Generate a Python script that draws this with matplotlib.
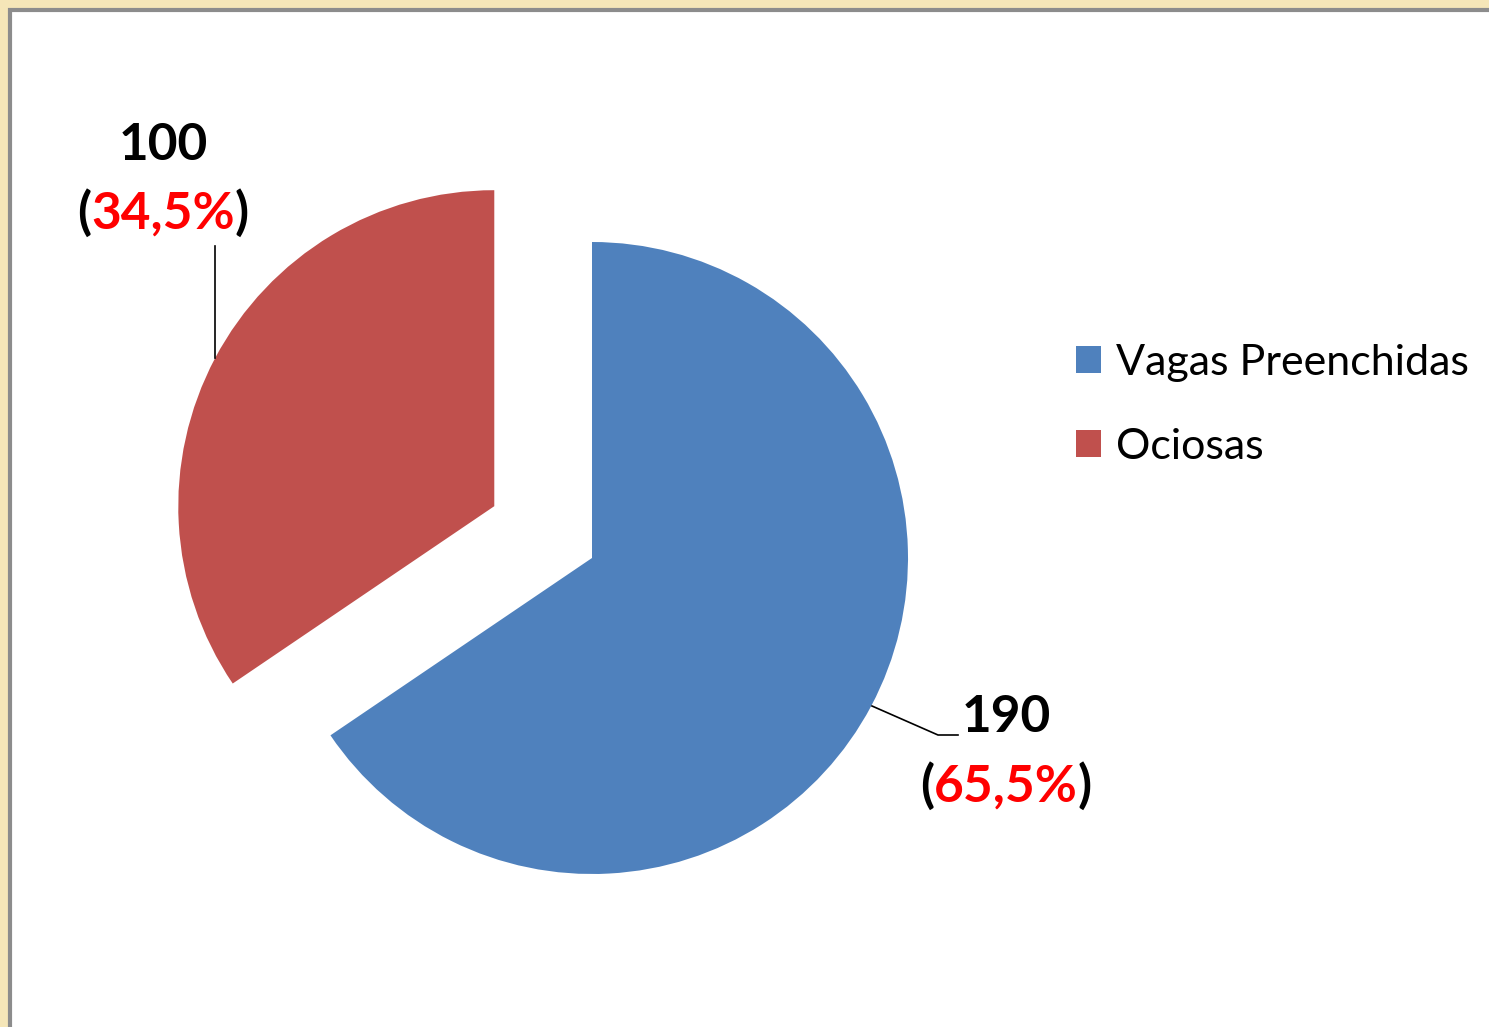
import matplotlib
matplotlib.use("Agg")
import matplotlib.pyplot as plt
from matplotlib.patches import Rectangle, Patch
from matplotlib.offsetbox import TextArea, HPacker, AnnotationBbox

# ---- data ----
categories = ["Vagas Preenchidas", "Ociosas"]
values = [190, 100]
pct_labels = ["65,5%", "34,5%"]
colors = ["#4F81BD", "#C0504D"]
explode_frac = [0.0, 0.35]

W, H = 1489, 1027
fig = plt.figure(figsize=(W / 100, H / 100), dpi=100)
fig.patch.set_facecolor("#F5E6B8")

# white chart panel with grey border (top/left visible)
panel = Rectangle((10 / W, -0.1), 1.2, 1.1 - 10 / H, transform=fig.transFigure,
                  facecolor="white", edgecolor="#8C8C8C", linewidth=3, zorder=-10)
fig.patches.append(panel)

ax = fig.add_axes([0, 0, 1, 1])
ax.set_facecolor("none")
ax.set_zorder(5)

cx, cy, r = 592, H - 558, 316
wedges, _ = ax.pie(values, colors=colors, startangle=90, counterclock=False,
                   explode=[e * r for e in explode_frac], center=(cx, cy), radius=r,
                   wedgeprops=dict(linewidth=0))
ax.set_xlim(0, W)
ax.set_ylim(0, H)
ax.set_aspect("equal")
ax.axis("off")

font = "Lato"
fs = 37

def label(x, y, count, pct):
    ax.text(x, H - y, str(count), ha="center", va="center", fontsize=fs,
            fontweight="bold", family=font, color="black")
    tp_k = dict(fontsize=fs, fontweight="bold", family=font, color="black")
    tp_r = dict(fontsize=fs, fontweight="bold", family=font, color="#FF0000")
    box = HPacker(children=[TextArea("(", textprops=tp_k),
                            TextArea(pct, textprops=tp_r),
                            TextArea(")", textprops=tp_k)],
                  sep=0, pad=0, align="baseline")
    ab = AnnotationBbox(box, (x, H - y - 68), xycoords="data", frameon=False,
                        box_alignment=(0.5, 0.5), pad=0)
    ax.add_artist(ab)

label(163, 145, values[1], pct_labels[1])
label(1006, 718, values[0], pct_labels[0])

# leader lines
ax.plot([215, 215], [H - 246, H - 358], color="black", linewidth=1.2)
ax.plot([872, 938, 958], [H - 706, H - 735, H - 735], color="black", linewidth=1.2)

handles = [Patch(facecolor=c, edgecolor="none") for c in colors]
leg = fig.legend(handles, categories, loc="upper left",
                 bbox_to_anchor=(1076 / W, 1 - 344 / H), frameon=False,
                 prop=dict(family=font, size=31), handlelength=0.58,
                 handleheight=0.58, handletextpad=0.35, labelspacing=1.06,
                 borderpad=0, borderaxespad=0)
leg.set_zorder(6)

fig.savefig("out.png", dpi=100, facecolor=fig.get_facecolor())
